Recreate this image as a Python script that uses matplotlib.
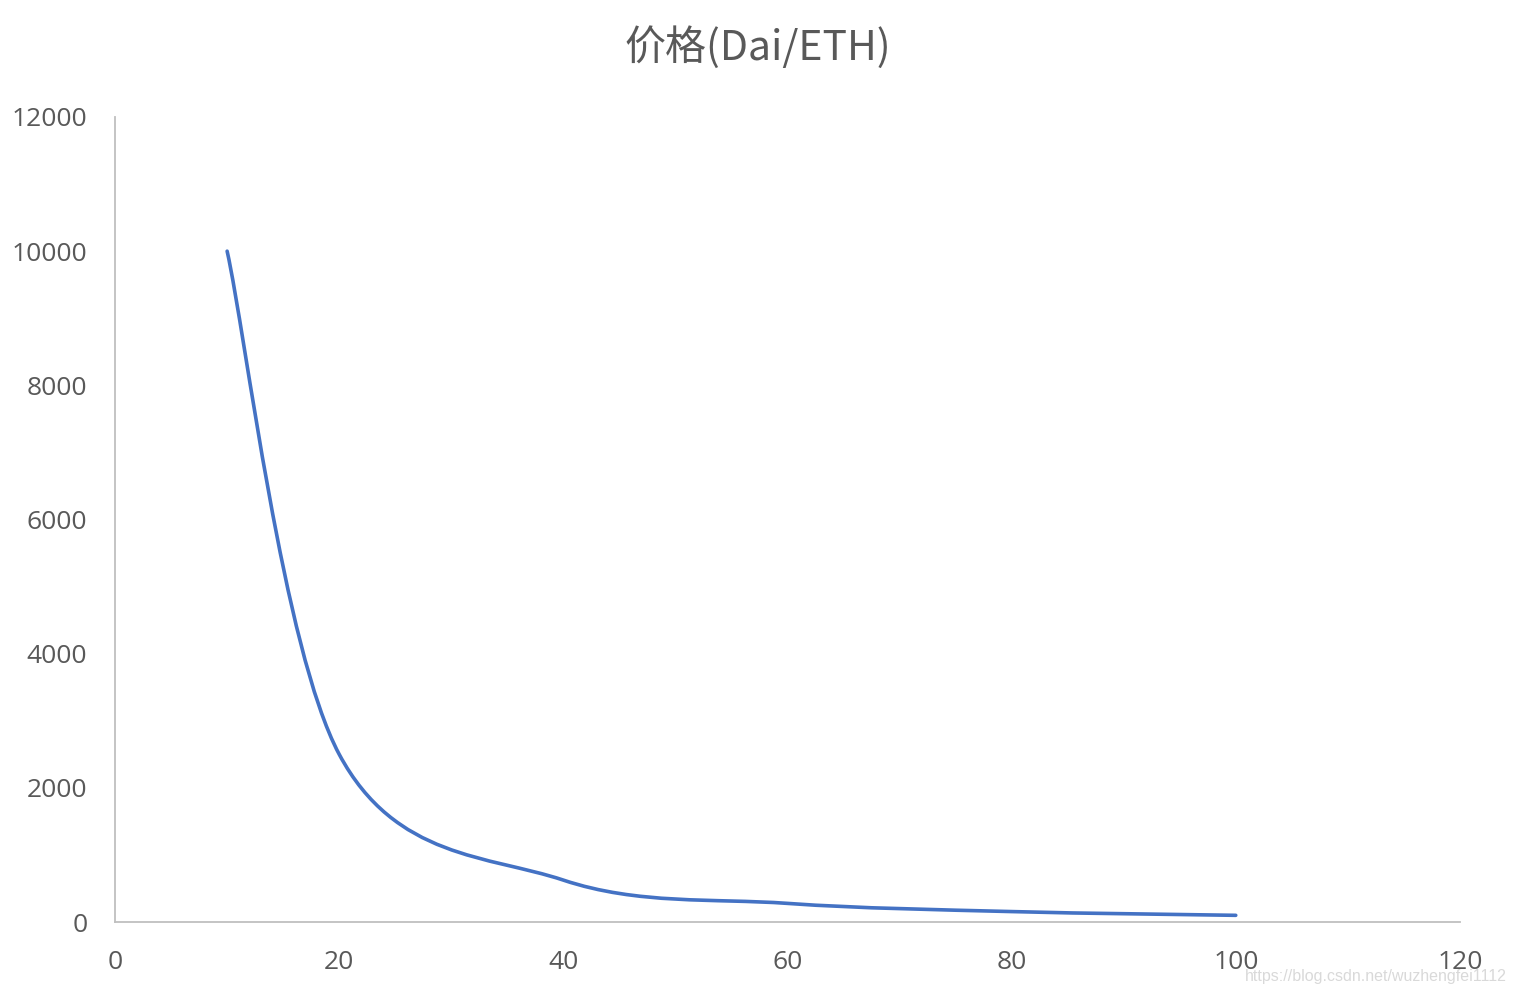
import numpy as np
import matplotlib.pyplot as plt
from matplotlib.path import Path
from matplotlib.patches import PathPatch

plt.rcParams['font.family'] = ['Noto Sans CJK SC', 'DejaVu Sans']

# data (ETH amount vs price Dai/ETH)
eth = [10, 20, 40, 60, 80, 100]
price = [10000, 2500, 625, 278, 156, 100]
x_ticks = [0, 20, 40, 60, 80, 100, 120]
y_ticks = [0, 2000, 4000, 6000, 8000, 10000, 12000]
title = '价格(Dai/ETH)'


def smooth_path(xs, ys):
    # Excel style smoothed line: cubic bezier, control points from neighbours / 6
    p = np.column_stack([xs, ys]).astype(float)
    n = len(p)
    verts = [p[0]]
    codes = [Path.MOVETO]
    for i in range(n - 1):
        p0 = p[i - 1] if i > 0 else p[i]
        p1 = p[i]
        p2 = p[i + 1]
        p3 = p[i + 2] if i + 2 < n else p[i + 1]
        c1 = p1 + (p2 - p0) / 6
        c2 = p2 - (p3 - p1) / 6
        verts += [c1, c2, p2]
        codes += [Path.CURVE4] * 3
    return Path(verts, codes)


fig = plt.figure(figsize=(15.16, 9.94), dpi=100)
ax = fig.add_axes([0.0759, 0.0724, 0.8871, 0.8099])

line = PathPatch(smooth_path(eth, price), facecolor='none', edgecolor='#4472C4',
                 linewidth=2.6, capstyle='round', joinstyle='round')
ax.add_patch(line)

ax.set_xlim(0, 120)
ax.set_ylim(0, 12000)
ax.set_xticks(x_ticks)
ax.set_yticks(y_ticks)
ax.tick_params(length=0, labelsize=19, labelcolor='#595959')
ax.tick_params(axis='y', pad=20)
ax.tick_params(axis='x', pad=20)
for lab in ax.get_xticklabels() + ax.get_yticklabels():
    lab.set_family(['Open Sans', 'DejaVu Sans'])

for s in ['top', 'right']:
    ax.spines[s].set_visible(False)
for s in ['left', 'bottom']:
    ax.spines[s].set_color('#BFBFBF')
    ax.spines[s].set_linewidth(1.3)

fig.text(0.5, 0.952, title, ha='center', va='center', fontsize=29.5, color='#595959')
fig.text(0.994, 0.018, 'https://blog.csdn.net/wuzhengfei1112', ha='right', va='center',
         fontsize=11.5, color='#D9D9D9', family=['Liberation Sans', 'DejaVu Sans'])

fig.savefig('out.png', dpi=100)
